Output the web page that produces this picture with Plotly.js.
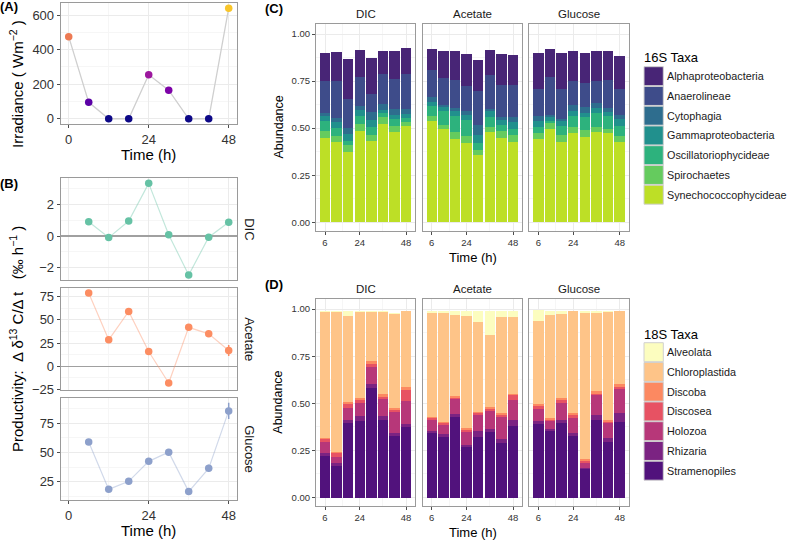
<!DOCTYPE html>
<html>
<head>
<meta charset="utf-8">
<script src="https://cdn.plot.ly/plotly-3.0.1.min.js"></script>
<style>html,body{margin:0;padding:0;background:#fff;}#chart{width:791px;height:540px;}</style>
</head>
<body>
<div id="chart"></div>
<script>
// ---------------- DATA ----------------
const timesA = [0, 6, 12, 18, 24, 30, 36, 42, 48];
const irradiance = [475, 95, 0, 0, 255, 165, 0, 0, 640];

const times = [6, 12, 18, 24, 30, 36, 42, 48];
const treatments = ['DIC', 'Acetate', 'Glucose'];

const prodDIC = [0.91, -0.10, 0.95, 3.34, 0.08, -2.47, -0.08, 0.87];
const prodDICErr = [0.05, 0.05, 0.05, 0.05, 0.05, 0.05, 0.05, 0.05];
const prodAcetate = [79, 28.5, 59, 16, -18, 42, 35, 17];
const prodAcetateErr = [1, 1, 1, 1, 1, 1, 1, 6];
const prodGlucose = [59, 18.4, 25.3, 42.4, 50.3, 16.5, 36.4, 85.6];
const prodGlucoseErr = [1, 1, 1, 1, 1, 2, 3, 7];

const taxa16S = ['Alphaproteobacteria', 'Anaerolineae', 'Cytophagia', 'Gammaproteobacteria',
  'Oscillatoriophycideae', 'Spirochaetes', 'Synechococcophycideae'];
const taxa18S = ['Alveolata', 'Chloroplastida', 'Discoba', 'Discosea', 'Holozoa', 'Rhizaria', 'Stramenopiles'];

const dic16S = {
  Alphaproteobacteria:   [0.150, 0.156, 0.212, 0.145, 0.195, 0.120, 0.151, 0.135],
  Anaerolineae:          [0.168, 0.198, 0.154, 0.152, 0.093, 0.160, 0.155, 0.187],
  Cytophagia:            [0.017, 0.017, 0.035, 0.022, 0.045, 0.030, 0.032, 0.027],
  Gammaproteobacteria:   [0.027, 0.032, 0.035, 0.031, 0.038, 0.020, 0.025, 0.020],
  Oscillatoriophycideae: [0.053, 0.045, 0.020, 0.045, 0.038, 0.022, 0.035, 0.020],
  Spirochaetes:          [0.035, 0.033, 0.042, 0.035, 0.034, 0.037, 0.034, 0.024],
  Synechococcophycideae: [0.450, 0.425, 0.371, 0.485, 0.432, 0.520, 0.478, 0.511]
};
const acetate16S = {
  Alphaproteobacteria:   [0.110, 0.143, 0.156, 0.168, 0.165, 0.136, 0.164, 0.161],
  Anaerolineae:          [0.145, 0.145, 0.146, 0.134, 0.182, 0.177, 0.168, 0.171],
  Cytophagia:            [0.023, 0.014, 0.018, 0.021, 0.053, 0.014, 0.018, 0.023],
  Gammaproteobacteria:   [0.023, 0.018, 0.025, 0.023, 0.040, 0.030, 0.027, 0.036],
  Oscillatoriophycideae: [0.053, 0.075, 0.088, 0.088, 0.040, 0.053, 0.029, 0.035],
  Spirochaetes:          [0.025, 0.020, 0.032, 0.036, 0.028, 0.027, 0.036, 0.035],
  Synechococcophycideae: [0.540, 0.497, 0.445, 0.422, 0.355, 0.480, 0.450, 0.428]
};
const glucose16S = {
  Alphaproteobacteria:   [0.191, 0.150, 0.191, 0.160, 0.161, 0.155, 0.156, 0.175],
  Anaerolineae:          [0.146, 0.200, 0.160, 0.130, 0.130, 0.120, 0.146, 0.138],
  Cytophagia:            [0.025, 0.014, 0.012, 0.030, 0.028, 0.024, 0.021, 0.021],
  Gammaproteobacteria:   [0.032, 0.018, 0.025, 0.025, 0.025, 0.026, 0.023, 0.037],
  Oscillatoriophycideae: [0.035, 0.015, 0.050, 0.060, 0.068, 0.076, 0.066, 0.053],
  Spirochaetes:          [0.030, 0.030, 0.035, 0.035, 0.035, 0.030, 0.026, 0.030],
  Synechococcophycideae: [0.442, 0.495, 0.428, 0.472, 0.454, 0.477, 0.472, 0.428]
};

const dic18S = {
  Alveolata:      [0.004, 0.004, 0.025, 0.004, 0.004, 0.008, 0.007, 0.003],
  Chloroplastida: [0.669, 0.744, 0.457, 0.460, 0.262, 0.435, 0.497, 0.401],
  Discoba:        [0.007, 0.008, 0.011, 0.011, 0.014, 0.012, 0.009, 0.015],
  Discosea:       [0.014, 0.018, 0.021, 0.011, 0.018, 0.013, 0.012, 0.060],
  Holozoa:        [0.062, 0.032, 0.066, 0.070, 0.090, 0.090, 0.111, 0.125],
  Rhizaria:       [0.013, 0.016, 0.017, 0.027, 0.023, 0.020, 0.018, 0.013],
  Stramenopiles:  [0.221, 0.168, 0.393, 0.407, 0.579, 0.412, 0.326, 0.375]
};
const acetate18S = {
  Alveolata:      [0.011, 0.011, 0.022, 0.027, 0.060, 0.124, 0.030, 0.030],
  Chloroplastida: [0.551, 0.577, 0.430, 0.592, 0.474, 0.387, 0.513, 0.407],
  Discoba:        [0.008, 0.009, 0.008, 0.011, 0.009, 0.009, 0.009, 0.009],
  Discosea:       [0.009, 0.009, 0.008, 0.012, 0.009, 0.009, 0.009, 0.023],
  Holozoa:        [0.057, 0.048, 0.081, 0.067, 0.083, 0.097, 0.115, 0.109],
  Rhizaria:       [0.011, 0.014, 0.016, 0.012, 0.032, 0.014, 0.023, 0.030],
  Stramenopiles:  [0.343, 0.322, 0.425, 0.269, 0.322, 0.349, 0.290, 0.381]
};
const glucose18S = {
  Alveolata:      [0.059, 0.022, 0.018, 0.003, 0.010, 0.011, 0.004, 0.003],
  Chloroplastida: [0.440, 0.545, 0.443, 0.539, 0.776, 0.414, 0.575, 0.389],
  Discoba:        [0.009, 0.009, 0.012, 0.013, 0.012, 0.013, 0.009, 0.013],
  Discosea:       [0.018, 0.009, 0.014, 0.014, 0.008, 0.009, 0.009, 0.012],
  Holozoa:        [0.064, 0.039, 0.092, 0.080, 0.030, 0.106, 0.076, 0.124],
  Rhizaria:       [0.017, 0.012, 0.018, 0.016, 0.005, 0.026, 0.021, 0.049],
  Stramenopiles:  [0.388, 0.354, 0.393, 0.327, 0.149, 0.411, 0.296, 0.402]
};

// ---------------- STYLE ----------------
const pal16S = ['#482576', '#3e4c8a', '#2e6d8e', '#21908d', '#2db27d', '#65cb5e', '#bddf26'];
const pal18S = ['#fcfdbf', '#fec488', '#fc8961', '#e75263', '#b73779', '#7b2382', '#51127c'];
const prodColors = ['#66c2a5', '#fc8d62', '#8da0cb'];
const prodLineColors = ['rgba(102,194,165,0.4)', 'rgba(252,141,98,0.4)', 'rgba(141,160,203,0.4)'];
const FONT = 'Liberation Sans, Arial, Helvetica, sans-serif';
const W = 791, H = 540;
const X = px => px / W;
const Y = py => 1 - py / H;

const traces = [];

// Panel A
traces.push({
  type: 'scatter', mode: 'lines+markers', x: timesA, y: irradiance,
  xaxis: 'x', yaxis: 'y',
  line: {color: '#cfcfcf', width: 1.3},
  marker: {size: 7.5, color: irradiance, cmin: 0, cmax: 640,
    colorscale: [[0, '#0d0887'], [0.15, '#5c01a6'], [0.26, '#7e03a8'], [0.4, '#9c179e'], [0.74, '#ed7953'], [1, '#f8c52a']]},
  showlegend: false, hoverinfo: 'skip'
});

// Panel B
const prodSeries = [prodDIC, prodAcetate, prodGlucose];
const prodErrs = [prodDICErr, prodAcetateErr, prodGlucoseErr];
prodSeries.forEach((s, i) => {
  const ax = i + 2;
  traces.push({type: 'scatter', mode: 'lines', x: times, y: s, xaxis: 'x' + ax, yaxis: 'y' + ax,
    line: {color: prodLineColors[i], width: 1.2}, showlegend: false, hoverinfo: 'skip'});
  traces.push({type: 'scatter', mode: 'markers', x: times, y: s, xaxis: 'x' + ax, yaxis: 'y' + ax,
    marker: {color: prodColors[i], size: 7.5},
    error_y: {type: 'data', array: prodErrs[i], visible: true, color: prodColors[i], thickness: 1.5, width: 0},
    showlegend: false, hoverinfo: 'skip'});
});

// Panels C and D
function addBars(data, taxa, pal, axIdx) {
  for (let k = taxa.length - 1; k >= 0; k--) {
    traces.push({type: 'bar', x: times, y: data[taxa[k]], width: 5.4,
      xaxis: 'x' + axIdx, yaxis: 'y' + axIdx, name: taxa[k],
      marker: {color: pal[k], line: {width: 0}}, showlegend: false, hoverinfo: 'skip'});
  }
}
[dic16S, acetate16S, glucose16S].forEach((d, i) => addBars(d, taxa16S, pal16S, 5 + i));
[dic18S, acetate18S, glucose18S].forEach((d, i) => addBars(d, taxa18S, pal18S, 8 + i));

// ---------------- LAYOUT ----------------
const base = {
  showline: true, mirror: true, linecolor: '#9a9a9a', linewidth: 1,
  showgrid: true, gridcolor: '#ebebeb', gridwidth: 1, zeroline: false,
  ticks: 'outside', ticklen: 3, tickcolor: '#4d4d4d', tickwidth: 1,
  tickfont: {family: FONT, size: 13, color: '#333'}, fixedrange: true
};
const minorGrid = vals => ({tickvals: vals, showgrid: true, gridcolor: '#f6f6f6', gridwidth: 1, ticks: ''});

const layout = {
  width: W, height: H, margin: {l: 0, r: 0, t: 0, b: 0},
  paper_bgcolor: '#fff', plot_bgcolor: '#fff',
  barmode: 'stack', showlegend: false,
  font: {family: FONT, color: '#1a1a1a'},
  annotations: [], shapes: []
};

// A
layout.xaxis = Object.assign({}, base, {domain: [X(60.7), X(236.7)], range: [-2.4, 50.4], anchor: 'y',
  tickvals: [0, 24, 48], minor: minorGrid([12, 36])});
layout.yaxis = Object.assign({}, base, {domain: [Y(124.3), Y(3.3)], range: [-32, 668], anchor: 'x',
  tickvals: [0, 200, 400, 600], minor: minorGrid([100, 300, 500])});

// B
const bDomains = [[178.3, 280], [288.3, 390], [398.3, 500]];
const bRanges = [[-2.79, 3.66], [-25.5, 84], [9.3, 96.4]];
const bTicks = [[-2, 0, 2], [-25, 0, 25, 50, 75], [25, 50, 75]];
const bMinor = [[-1, 1, 3], [-12.5, 12.5, 37.5, 62.5], [12.5, 37.5, 62.5, 87.5]];
for (let i = 0; i < 3; i++) {
  const ax = i + 2;
  const bottom = i === 2;
  layout['xaxis' + ax] = Object.assign({}, base, {domain: [X(60.7), X(236.7)], range: [-2.4, 50.4], anchor: 'y' + ax,
    tickvals: [0, 24, 48], minor: minorGrid([12, 36]), showticklabels: bottom, ticks: bottom ? 'outside' : ''});
  layout['yaxis' + ax] = Object.assign({}, base, {domain: [Y(bDomains[i][1]), Y(bDomains[i][0])], range: bRanges[i],
    anchor: 'x' + ax, tickvals: bTicks[i], minor: minorGrid(bMinor[i]),
    zeroline: i < 2, zerolinecolor: '#a0a0a0', zerolinewidth: 1.6});
}

// C & D
const facetX = [[316, 415.3], [422.7, 522.3], [529.3, 629]];
const facetY = [[24.3, 230.7], [299.3, 506]];
for (let r = 0; r < 2; r++) {
  for (let c = 0; c < 3; c++) {
    const ax = 5 + r * 3 + c;
    layout['xaxis' + ax] = Object.assign({}, base, {domain: [X(facetX[c][0]), X(facetX[c][1])], range: [1.33, 52.8],
      anchor: 'y' + ax, tickvals: [6, 24, 48], minor: minorGrid([15, 36]),
      tickfont: {family: FONT, size: 9.5, color: '#333'}});
    layout['yaxis' + ax] = Object.assign({}, base, {domain: [Y(facetY[r][1]), Y(facetY[r][0])], range: [-0.045, 1.052],
      anchor: 'x' + ax, tickvals: [0, 0.25, 0.5, 0.75, 1], ticktext: ['0.00', '0.25', '0.50', '0.75', '1.00'],
      minor: minorGrid([0.125, 0.375, 0.625, 0.875]),
      showticklabels: c === 0, ticks: c === 0 ? 'outside' : '',
      tickfont: {family: FONT, size: 9.5, color: '#333'}});
  }
}

// Text annotations
function ann(text, px, py, opts) {
  layout.annotations.push(Object.assign({text: text, x: X(px), y: Y(py), xref: 'paper', yref: 'paper',
    showarrow: false, xanchor: 'center', yanchor: 'middle', borderpad: 0,
    font: {family: FONT, size: 13, color: '#1a1a1a'}}, opts || {}));
}
// panel labels
ann('<b>(A)</b>', -1, 7, {xanchor: 'left', font: {family: FONT, size: 13, color: '#000'}});
ann('<b>(B)</b>', -1, 183, {xanchor: 'left', font: {family: FONT, size: 13, color: '#000'}});
ann('<b>(C)</b>', 264, 8, {xanchor: 'left', font: {family: FONT, size: 13, color: '#000'}});
ann('<b>(D)</b>', 264, 284, {xanchor: 'left', font: {family: FONT, size: 13, color: '#000'}});

// axis titles
ann('Irradiance ( Wm<sup>\u22122</sup> )', 16, 84, {textangle: -90, font: {family: FONT, size: 15, color: '#000'}});
ann('Time (h)', 148.7, 154.5, {font: {family: FONT, size: 15, color: '#000'}});
ann('Productivity:\u00a0\u00a0\u0394 \u03b4<sup>13</sup> C/\u0394 t\u00a0\u00a0\u00a0(\u2030 h<sup>\u22121</sup> )', 16, 339,
  {textangle: -90, font: {family: FONT, size: 15, color: '#000'}});
ann('Time (h)', 148.7, 530, {font: {family: FONT, size: 15, color: '#000'}});
ann('Abundance', 278, 127.5, {textangle: -90, font: {family: FONT, size: 12.5, color: '#000'}});
ann('Time (h)', 472.5, 257.5, {font: {family: FONT, size: 13, color: '#000'}});
ann('Abundance', 278, 402.7, {textangle: -90, font: {family: FONT, size: 12.5, color: '#000'}});
ann('Time (h)', 472.5, 532, {font: {family: FONT, size: 13, color: '#000'}});

// strip labels
treatments.forEach((t, i) => {
  const cx = (facetX[i][0] + facetX[i][1]) / 2;
  ann(t, cx, 14, {font: {family: FONT, size: 11.5, color: '#1a1a1a'}});
  ann(t, cx, 289, {font: {family: FONT, size: 11.5, color: '#1a1a1a'}});
  ann(t, 250, (bDomains[i][0] + bDomains[i][1]) / 2, {textangle: 90, font: {family: FONT, size: 13, color: '#1a1a1a'}});
});

// legends
function legend(title, taxa, pal, titleY, firstY) {
  ann(title, 643, titleY, {xanchor: 'left', font: {family: FONT, size: 13, color: '#000'}});
  taxa.forEach((t, i) => {
    const y0 = firstY + i * 19.75;
    layout.shapes.push({type: 'rect', xref: 'paper', yref: 'paper', x0: X(644), x1: X(663.3), y0: Y(y0 + 19), y1: Y(y0),
      fillcolor: pal[i], line: {color: '#d0d0d0', width: 1}});
    ann(t, 666, y0 + 9.5, {xanchor: 'left', font: {family: FONT, size: 10.8, color: '#1a1a1a'}});
  });
}
legend('16S Taxa', taxa16S, pal16S, 58, 66.7);
legend('18S Taxa', taxa18S, pal18S, 334, 342.7);

Plotly.newPlot('chart', traces, layout, {displayModeBar: false, staticPlot: true});
</script>
</body>
</html>
